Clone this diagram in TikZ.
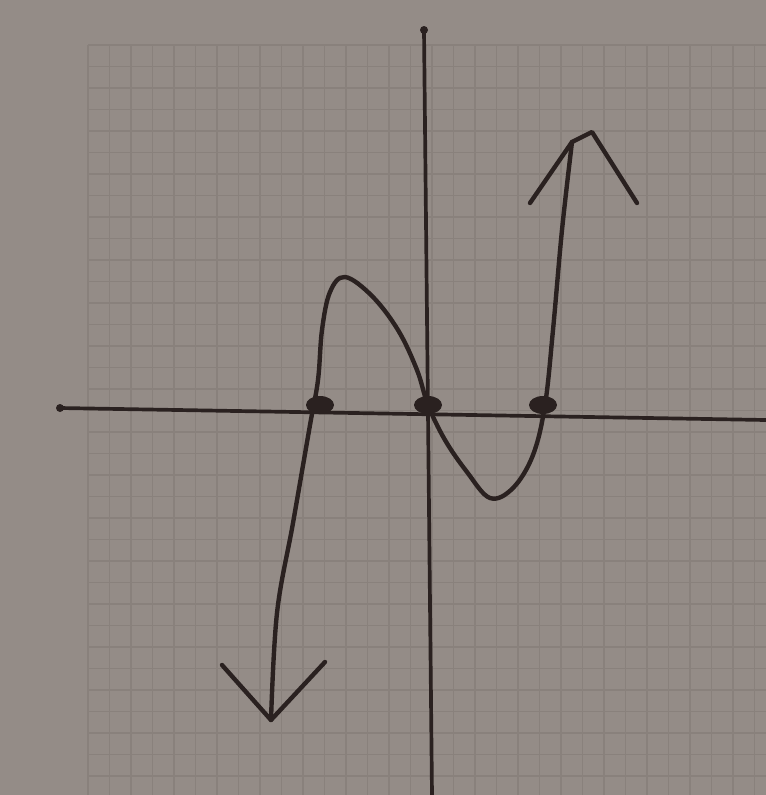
\documentclass[tikz,border=0pt]{standalone}
\usepackage{tikz}
\usetikzlibrary{positioning,shapes.geometric}
\definecolor{Paper}{HTML}{948C87}
\definecolor{GridLine}{HTML}{89817C}
\definecolor{Ink}{HTML}{2A2120}
\tikzset{
  gridline/.style={draw=GridLine,line width=.7pt},
  axisline/.style={draw=Ink,line width=2.1pt,line cap=round},
  curveline/.style={draw=Ink,line width=2.5pt,line cap=round,line join=round},
  rootdot/.style={ellipse,fill=Ink,inner sep=0pt,minimum width=.56cm,minimum height=.36cm},
  axisend/.style={circle,fill=Ink,inner sep=0pt,minimum size=.16cm}
}
\begin{document}
\begin{tikzpicture}[x=0.02cm,y=-0.02cm]
  \useasboundingbox (0,0) rectangle (766,795);
  \fill[Paper] (0,0) rectangle (766,795);

  % graph paper
  \foreach \gx in {88,109.5,...,766}
    \draw[gridline] (\gx,45) -- (\gx,795);
  \foreach \gy in {45,66.5,...,795}
    \draw[gridline] (88,\gy) -- (766,\gy);

  % axes
  \node[axisend] (xleft) at (60,408) {};
  \coordinate (xright) at (766,420);
  \node[axisend] (ytop) at (424,30) {};
  \coordinate (ybottom) at (432,795);
  \draw[axisline] (xleft.center) -- (xright);
  \draw[axisline] (ytop.center) -- (ybottom);

  % zeros
  \node[rootdot] (rootleft) at (320,405) {};
  \node[rootdot] (origin) at (428,405) {};
  \node[rootdot] (rootright) at (543,405) {};

  % curve
  \coordinate (tipdown) at (271,720);
  \coordinate (tipup) at (572,142);
  \draw[curveline] plot[smooth,tension=.6] coordinates {
    (tipdown) (277,613) (293,523) (310,425) (318,380) (322,330) (330,292)
    (345,277) (372,296) (398,330) (417,370) (428,405) (445,440) (467,472)
    (490,498) (513,488) (533,455) (545,405) (553,330) (562,230) (tipup)};
  \draw[curveline] (222,665) -- (tipdown) -- (325,662);
  \draw[curveline] (530,203) -- (tipup) -- (592,132) -- (637,203);
\end{tikzpicture}
\end{document}
